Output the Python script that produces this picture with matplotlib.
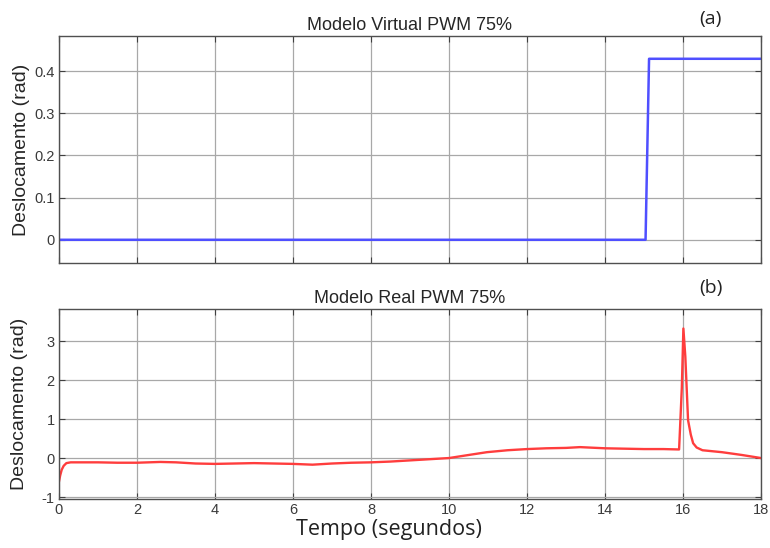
import matplotlib
matplotlib.use("Agg")
import matplotlib.pyplot as plt
import numpy as np

# ---- data ----
t_virtual = [0.0, 15.04, 15.13, 18.0]
y_virtual = [0.0, 0.0, 0.429, 0.429]

t_real = [0.0, 0.03, 0.07, 0.12, 0.19, 0.3, 0.5, 1.0, 1.5, 2.0, 2.6, 3.0, 3.5, 4.0,
          4.5, 5.0, 5.5, 6.0, 6.5, 7.0, 7.5, 8.0, 8.5, 9.0, 9.5, 10.0, 10.45,
          10.97, 11.5, 12.0, 12.5, 13.0, 13.36, 14.0, 14.5, 15.0, 15.5, 15.9,
          15.97, 16.01, 16.06, 16.13, 16.2, 16.26, 16.35, 16.5, 17.0, 17.5, 18.0]
y_real = [-0.6, -0.45, -0.3, -0.2, -0.13, -0.11, -0.11, -0.11, -0.12, -0.12, -0.1, -0.11, -0.14, -0.15,
          -0.14, -0.13, -0.14, -0.15, -0.17, -0.14, -0.12, -0.11, -0.09, -0.06, -0.03, 0.0, 0.07,
          0.15, 0.2, 0.23, 0.25, 0.26, 0.28, 0.25, 0.24, 0.23, 0.23, 0.22,
          1.8, 3.32, 2.6, 0.97, 0.6, 0.38, 0.27, 0.2, 0.15, 0.08, 0.0]

xticks = [0, 2, 4, 6, 8, 10, 12, 14, 16, 18]
yticks_top = [0, 0.1, 0.2, 0.3, 0.4]
yticks_bot = [-1, 0, 1, 2, 3]

title_top = "Modelo Virtual PWM 75%"
title_bot = "Modelo Real PWM 75%"
ylabel = "Deslocamento (rad)"
xlabel = "Tempo (segundos)"

fig = plt.figure(figsize=(7.7, 5.48), dpi=100)
ax1 = fig.add_axes([0.0766, 0.5201, 0.9117, 0.4142])
ax2 = fig.add_axes([0.0766, 0.0894, 0.9117, 0.3467])

tick_color = "#404040"
lab_color = "#3a3a3a"
tick_fs = 10.5
for ax in (ax1, ax2):
    ax.set_xlim(0, 18)
    ax.set_xticks(xticks)
    ax.grid(True, color="#a8a8a8", linewidth=0.9)
    ax.set_axisbelow(True)
    ax.tick_params(direction="in", top=True, right=True, length=4, width=0.8,
                   colors=tick_color, labelsize=tick_fs, pad=3)
    for s in ax.spines.values():
        s.set_color("#505050")
        s.set_linewidth(1.0)

ax1.plot(t_virtual, y_virtual, color="#4f4fff", linewidth=1.8)
ax1.set_ylim(-0.055, 0.483)
ax1.set_yticks(yticks_top)
ax1.set_yticklabels(["0", "0.1", "0.2", "0.3", "0.4"], family="Liberation Sans",
                    color=lab_color, fontsize=tick_fs)
ax1.tick_params(labelbottom=False)
ax1.set_title(title_top, family="Liberation Sans", fontsize=13, color="#262626", pad=4)
ax1.set_ylabel(ylabel, family="Liberation Sans", fontsize=14, color="#262626", labelpad=3)

ax2.plot(t_real, y_real, color="#ff3d3d", linewidth=1.7)
ax2.set_ylim(-1.05, 3.82)
ax2.set_yticks(yticks_bot)
ax2.set_yticklabels(["-1", "0", "1", "2", "3"], family="Liberation Sans",
                    color=lab_color, fontsize=tick_fs)
ax2.set_title(title_bot, family="Liberation Sans", fontsize=13, color="#262626", pad=4)
ax2.set_ylabel(ylabel, family="Liberation Sans", fontsize=14, color="#262626", labelpad=10)
ax2.set_xticklabels([str(v) for v in xticks], family="Liberation Sans",
                    color=lab_color, fontsize=tick_fs)

fig.text(0.5045, 0.033, xlabel, family="Open Sans", fontsize=15.5, color="#222222",
         ha="center", va="center")
fig.text(0.923, 0.966, "(a)", family="Open Sans", fontsize=14, color="#222222",
         ha="center", va="center")
fig.text(0.923, 0.474, "(b)", family="Open Sans", fontsize=14, color="#222222",
         ha="center", va="center")

fig.savefig("out.png", dpi=100)
